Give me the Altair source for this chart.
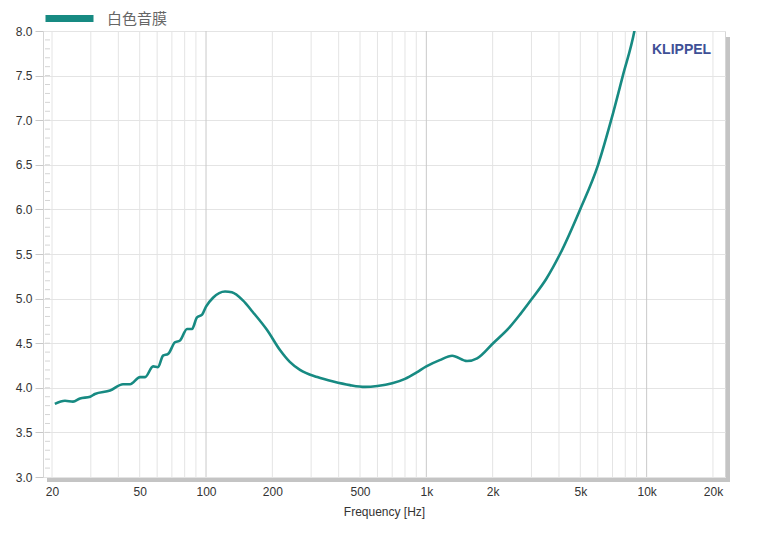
import altair as alt
import pandas as pd

# Impedance curve (frequency in Hz, value)
freq = [20.6, 22.9, 24.9, 26.8, 29.8, 31.3, 36.7, 42.0, 45.2, 50.2, 52.9, 57.5, 60.5,
        63.8, 67.3, 72.3, 76.2, 82.0, 86.4, 91.0, 96.0, 100, 107.6, 122, 131, 147,
        163, 189, 217, 240, 267, 320, 378, 450, 527, 600, 700, 800, 900, 1000, 1150, 1310,
        1530, 1700, 2010, 2390, 2660, 3020, 3500, 4045, 4990, 6020, 6900, 7800, 8800, 9250]
value = [3.82, 3.855, 3.845, 3.88, 3.90, 3.93, 3.97, 4.04, 4.04, 4.12, 4.12, 4.24, 4.23,
         4.36, 4.38, 4.51, 4.53, 4.66, 4.66, 4.79, 4.82, 4.91, 5.01, 5.08, 5.07, 4.98,
         4.85, 4.65, 4.42, 4.29, 4.20, 4.12, 4.07, 4.03, 4.01, 4.02, 4.05, 4.10, 4.17, 4.24, 4.31, 4.36,
         4.30, 4.33, 4.50, 4.68, 4.82, 5.00, 5.22, 5.50, 6.00, 6.50, 7.00, 7.50, 8.00, 8.30]
series_name = "白色音膜"

x_tick_values = [20, 50, 100, 200, 500, 1000, 2000, 5000, 10000, 20000]
y_tick_values = [3.0, 3.5, 4.0, 4.5, 5.0, 5.5, 6.0, 6.5, 7.0, 7.5, 8.0]
grid_minor = [20, 30, 40, 50, 60, 70, 80, 90, 200, 300, 400, 500, 600, 700, 800, 900,
              2000, 3000, 4000, 5000, 6000, 7000, 8000, 9000, 20000]
grid_major = [100, 1000, 10000]
y_minor_ticks = [round(3.0 + 0.1 * i, 1) for i in range(1, 50)]

W, H = 682, 446
x_scale = alt.Scale(type="log", domain=[18.2, 22680], nice=False)
y_scale = alt.Scale(domain=[3, 8], nice=False, zero=False)

x_axis = alt.Axis(values=x_tick_values, grid=False, ticks=False, domain=False,
                  labelExpr="datum.value >= 1000 ? (datum.value/1000) + 'k' : datum.value",
                  labelFontSize=12, labelColor="#333", labelPadding=9, labelFont="Liberation Sans",
                  title="Frequency [Hz]", titleFontSize=12, titleFontWeight="normal",
                  titleColor="#333", titleFont="Liberation Sans", titlePadding=9)
y_axis = alt.Axis(values=y_tick_values, format=".1f", grid=True, gridColor="#e4e4e4",
                  domain=False, tickSize=8, tickColor="#c8c8c8", labelPadding=3,
                  labelFontSize=12, labelColor="#333", labelFont="Liberation Sans", title=None)

df = pd.DataFrame({"freq": freq, "value": value, "series": series_name})
grid_df = pd.DataFrame({"freq": grid_minor + grid_major,
                        "kind": ["minor"] * len(grid_minor) + ["major"] * len(grid_major)})
yt_df = pd.DataFrame({"value": y_minor_ticks})

vgrid = alt.Chart(grid_df).mark_rule(strokeWidth=1).encode(
    x=alt.X("freq:Q", scale=x_scale, axis=x_axis),
    color=alt.Color("kind:N", scale=alt.Scale(domain=["minor", "major"], range=["#e4e4e4", "#c9c9c9"]), legend=None),
)

yticks = alt.Chart(yt_df).mark_rule(color="#d4d4d4", strokeWidth=1).encode(
    y=alt.Y("value:Q", scale=y_scale, axis=y_axis),
    x=alt.value(2), x2=alt.value(7),
)

line = alt.Chart(df).mark_line(strokeWidth=2.6, clip=True, interpolate="monotone").encode(
    x=alt.X("freq:Q", scale=x_scale, axis=x_axis),
    y=alt.Y("value:Q", scale=y_scale, axis=y_axis),
    color=alt.Color("series:N", scale=alt.Scale(domain=[series_name], range=["#178a82"]),
                    legend=alt.Legend(title=None, orient="none", legendX=-1, legendY=-40,
                                      symbolType="stroke", symbolSize=2304, symbolStrokeWidth=7,
                                      labelFont="Noto Sans CJK SC", labelFontSize=15,
                                      labelColor="#666", labelOffset=10)),
)

klippel = alt.Chart(pd.DataFrame({"t": ["KLIPPEL"]})).mark_text(
    align="left", baseline="middle", font="Liberation Sans", fontSize=14, fontWeight="bold",
    color="#3e5096"
).encode(text="t:N", x=alt.value(609), y=alt.value(19))

shadow_b = alt.Chart(pd.DataFrame({"a": [0]})).mark_rule(color="#c4c4c4", strokeWidth=4).encode(
    x=alt.value(4), x2=alt.value(W + 5), y=alt.value(H + 3))
shadow_r = alt.Chart(pd.DataFrame({"a": [0]})).mark_rule(color="#c4c4c4", strokeWidth=4).encode(
    x=alt.value(W + 3), y=alt.value(6), y2=alt.value(H + 5))

chart = alt.layer(vgrid, yticks, line, klippel, shadow_b, shadow_r).resolve_scale(
    color="independent"
).properties(
    width=W, height=H,
    autosize=alt.AutoSizeParams(type="none"),
    padding={"left": 35, "top": 23, "right": 20, "bottom": 50},
).configure_view(stroke="#d6d6d6", strokeWidth=1)

chart.save("out.html", embed_options={"renderer": "svg", "actions": False})
